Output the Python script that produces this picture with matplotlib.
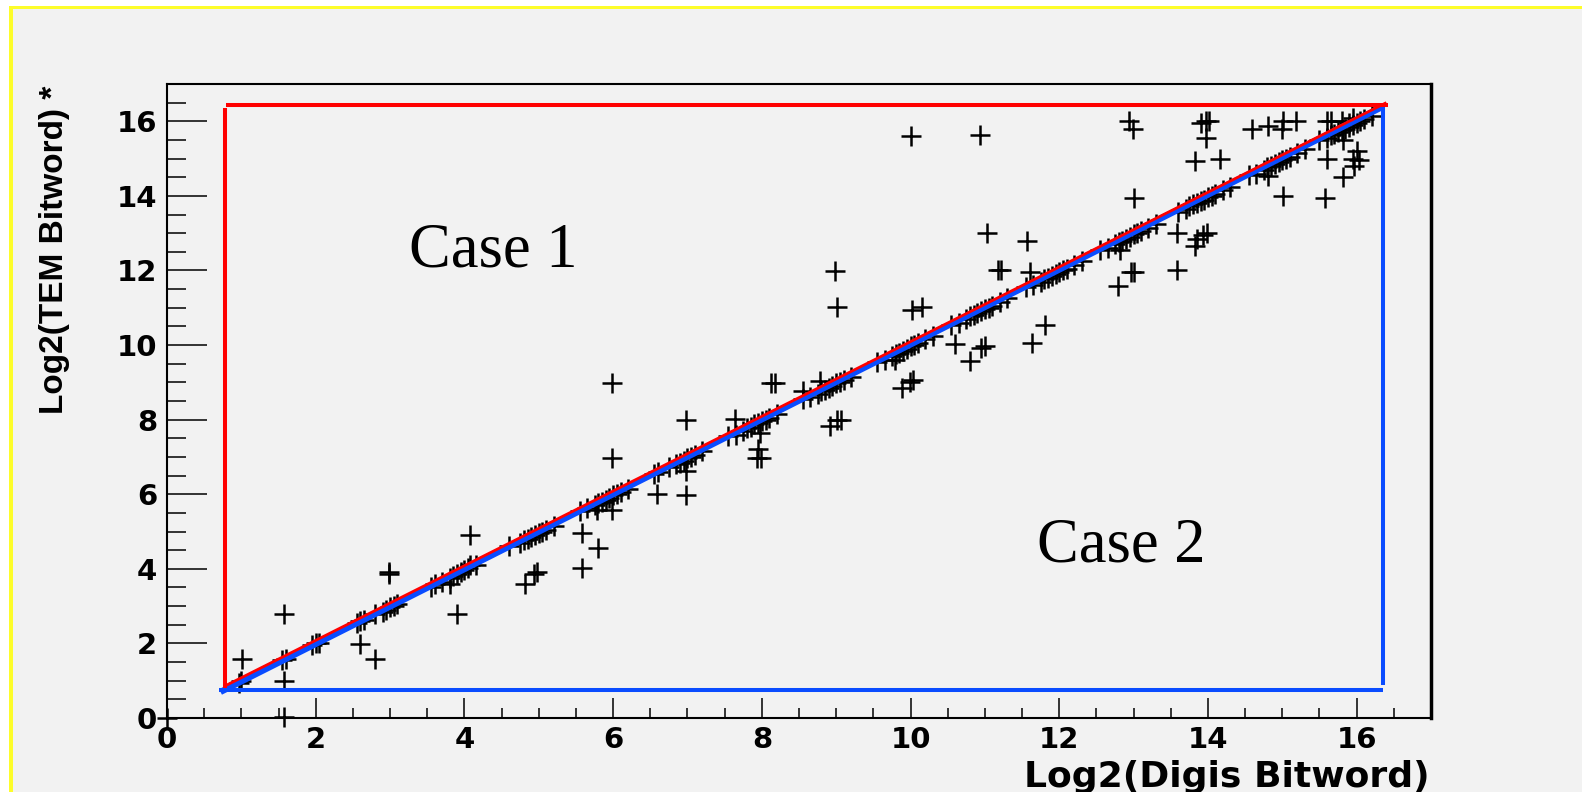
import matplotlib
matplotlib.use("Agg")
import matplotlib.pyplot as plt
from matplotlib.patches import Rectangle
from matplotlib.ticker import MultipleLocator

# points lying on the diagonal (log2 digis ~ log2 TEM)
band_x = [0.97, 1.0, 1.55, 1.6, 1.95, 2.0, 2.05, 2.55, 2.6, 2.65,
          2.8, 2.9, 2.95, 3.0, 3.05, 3.1,
          3.55, 3.6, 3.7, 3.8, 3.85, 3.9, 3.95, 4.0, 4.05, 4.15,
          4.6, 4.75, 4.8, 4.85, 4.9, 4.95, 5.0, 5.05, 5.1, 5.2,
          5.55, 5.65, 5.75, 5.8, 5.85, 5.9, 5.95, 6.0, 6.05, 6.1, 6.2,
          6.55, 6.6, 6.75, 6.85, 6.9, 6.95, 7.0, 7.05, 7.1, 7.2,
          7.55, 7.65, 7.75, 7.8, 7.85, 7.9, 7.95, 8.0, 8.05, 8.1, 8.2,
          8.55, 8.65, 8.75, 8.8, 8.85, 8.9, 8.95, 9.0, 9.05, 9.1, 9.2,
          9.55, 9.65, 9.75, 9.8, 9.85, 9.9, 9.95, 10.0, 10.05, 10.1, 10.2, 10.3,
          10.55, 10.65, 10.75, 10.8, 10.85, 10.9, 10.95, 11.0, 11.05, 11.1, 11.2, 11.3,
          11.55, 11.65, 11.75, 11.8, 11.85, 11.9, 11.95, 12.0, 12.05, 12.1, 12.2, 12.3,
          12.55, 12.65, 12.75, 12.8, 12.85, 12.9, 12.95, 13.0, 13.05, 13.1, 13.2, 13.3,
          13.6, 13.7, 13.75, 13.8, 13.85, 13.9, 13.95, 14.0, 14.05, 14.1, 14.2, 14.3,
          14.55, 14.65, 14.75, 14.8, 14.85, 14.9, 14.95, 15.0, 15.05, 15.1, 15.2, 15.3,
          15.5, 15.6, 15.65, 15.7, 15.75, 15.8, 15.85, 15.9, 15.95, 16.0, 16.05, 16.1, 16.2]
band_y = [0.95, 1.0, 1.55, 1.58, 1.95, 2.0, 2.0, 2.55, 2.6, 2.62,
          2.78, 2.85, 2.9, 2.97, 3.0, 3.05,
          3.5, 3.6, 3.65, 3.75, 3.82, 3.87, 3.92, 3.97, 4.02, 4.1,
          4.6, 4.7, 4.78, 4.8, 4.85, 4.92, 4.97, 5.0, 5.05, 5.15,
          5.55, 5.62, 5.7, 5.77, 5.8, 5.85, 5.9, 5.97, 6.0, 6.05, 6.15,
          6.55, 6.6, 6.72, 6.8, 6.85, 6.9, 6.97, 7.0, 7.05, 7.15,
          7.55, 7.6, 7.7, 7.77, 7.8, 7.87, 7.9, 7.97, 8.0, 8.05, 8.15,
          8.55, 8.6, 8.7, 8.77, 8.8, 8.85, 8.9, 8.97, 9.0, 9.05, 9.15,
          9.55, 9.6, 9.7, 9.77, 9.8, 9.85, 9.9, 9.97, 10.0, 10.05, 10.15, 10.25,
          10.55, 10.6, 10.7, 10.77, 10.8, 10.85, 10.9, 10.97, 11.0, 11.05, 11.15, 11.25,
          11.55, 11.6, 11.7, 11.77, 11.8, 11.85, 11.9, 11.97, 12.0, 12.05, 12.15, 12.25,
          12.55, 12.6, 12.7, 12.77, 12.8, 12.85, 12.9, 12.97, 13.0, 13.05, 13.15, 13.25,
          13.57, 13.65, 13.72, 13.77, 13.8, 13.85, 13.9, 13.97, 14.0, 14.05, 14.15, 14.25,
          14.55, 14.6, 14.7, 14.77, 14.8, 14.85, 14.9, 14.97, 15.0, 15.05, 15.15, 15.25,
          15.5, 15.55, 15.62, 15.67, 15.7, 15.77, 15.8, 15.85, 15.9, 15.95, 16.0, 16.05, 16.15]

# points off the diagonal
off_x = [0.0, 1.01, 1.58, 1.58, 1.58, 2.59, 2.8, 2.98, 2.98, 3.81, 3.9,
         4.08, 4.08, 4.82, 4.93, 4.97, 5.58, 5.8, 5.58, 5.99, 5.99, 5.99, 5.78,
         6.59, 6.98, 6.98, 6.98, 7.64, 7.95, 7.93, 7.99, 7.98, 8.13, 8.18,
         8.56, 8.78, 8.99, 9.01, 8.92, 9.01, 9.06, 9.79, 9.88, 9.99, 10.03,
         10.0, 10.94, 10.02, 10.15, 10.6, 10.8, 10.95, 11.0, 11.03, 11.56,
         11.17, 11.22, 11.61, 11.63, 11.81, 12.79, 12.97, 13.01, 12.82, 13.0,
         12.94, 12.99, 13.58, 13.94, 13.99, 13.85, 13.83, 13.58, 13.91, 13.98,
         14.02, 13.98, 13.83, 14.16, 14.59, 14.81, 14.81, 15.01, 14.99, 15.19,
         15.01, 15.57, 15.6, 15.82, 15.82, 15.95, 16.0, 15.97, 16.03, 15.6,
         15.66, 15.8, 15.95, 15.9]
off_y = [0.0, 1.57, 2.8, 0.99, 0.02, 1.98, 1.57, 3.85, 3.92, 3.58, 2.8,
         4.92, 4.1, 3.58, 3.85, 3.92, 4.97, 4.57, 4.03, 8.97, 6.98, 5.59, 5.59,
         6.0, 5.97, 6.62, 7.98, 8.02, 7.2, 6.98, 6.98, 7.65, 8.99, 8.99,
         8.76, 9.03, 11.98, 11.03, 7.83, 8.0, 8.0, 9.61, 8.86, 9.02, 9.05,
         15.6, 15.64, 10.95, 11.03, 10.02, 9.57, 9.92, 9.97, 13.01, 12.78,
         12.0, 12.0, 11.95, 10.06, 10.55, 11.58, 11.95, 11.95, 12.56, 13.93,
         16.0, 15.78, 13.01, 12.96, 13.0, 12.85, 12.65, 12.01, 15.96, 16.0,
         16.0, 15.56, 14.93, 15.0, 15.78, 15.87, 14.53, 16.0, 15.78, 16.0,
         13.99, 13.95, 14.99, 14.5, 15.51, 15.0, 15.2, 14.8, 14.95, 16.0,
         16.0, 16.0, 16.08, 15.95]

W, H = 1582, 792
bg = "#f2f2f2"

fig = plt.figure(figsize=(W / 100, H / 100), dpi=100, facecolor="white")
# yellow frame on top/left, grey canvas inside
fig.patches.append(Rectangle((9 / W, 0), 1, 1 - 6 / H, transform=fig.transFigure,
                             facecolor="#fdfd2a", edgecolor="none", zorder=-3))
fig.patches.append(Rectangle((13 / W, 0), 1, 1 - 9 / H, transform=fig.transFigure,
                             facecolor=bg, edgecolor="none", zorder=-2))

ax = fig.add_axes([167 / W, 1 - 718 / H, (1431 - 167) / W, (718 - 84) / H])
ax.set_facecolor(bg)
ax.set_xlim(0, 17)
ax.set_ylim(0, 17)

# case lines (drawn over the plot)
blue = "#0a4cff"
red = "#ff0000"
ax.plot([0.7, 16.36], [0.75, 0.75], color=blue, lw=2.9, solid_capstyle="butt", zorder=4)
ax.plot([16.36, 16.36], [0.88, 16.45], color=blue, lw=2.9, solid_capstyle="butt", zorder=4)
ax.plot([0.72, 16.36], [0.7, 16.4], color=blue, lw=4.5, solid_capstyle="butt", zorder=4)
ax.plot([0.78, 0.78], [0.8, 16.35], color=red, lw=2.9, solid_capstyle="butt", zorder=5)
ax.plot([0.8, 16.42], [16.45, 16.45], color=red, lw=2.9, solid_capstyle="butt", zorder=5)
ax.plot([0.78, 16.4], [0.86, 16.5], color=red, lw=2.0, solid_capstyle="butt", zorder=5)

for xs, ys in [(band_x, band_y), (off_x, off_y)]:
    ax.plot(xs, ys, ls="none", marker="+", ms=14, mew=1.8, color="black",
            clip_on=False, zorder=3)

ax.text(3.26, 12.5, "Case 1", fontsize=45, family="Liberation Serif",
        ha="left", va="center")
ax.text(11.7, 4.6, "Case 2", fontsize=45, family="Liberation Serif",
        ha="left", va="center")

# ROOT style axes
ax.xaxis.set_major_locator(MultipleLocator(2))
ax.xaxis.set_minor_locator(MultipleLocator(0.5))
ax.yaxis.set_major_locator(MultipleLocator(2))
ax.yaxis.set_minor_locator(MultipleLocator(0.5))
ax.tick_params(axis="both", which="both", direction="in", top=False, right=False,
               width=1.1, color="black")
ax.tick_params(axis="x", which="major", length=14.4, pad=6)
ax.tick_params(axis="x", which="minor", length=7.2)
ax.tick_params(axis="y", which="major", length=28.8, pad=7)
ax.tick_params(axis="y", which="minor", length=13.7)
for lab in ax.get_xticklabels() + ax.get_yticklabels():
    lab.set_fontfamily("DejaVu Sans")
    lab.set_fontweight("bold")
    lab.set_fontsize(21)
for side in ["left", "bottom", "top"]:
    ax.spines[side].set_linewidth(1.5)
ax.spines["right"].set_linewidth(2.5)

fig.text(1430 / W, 1 - 777 / H, "Log2(Digis Bitword)", ha="right", va="center",
         fontsize=26, fontweight="bold", family="DejaVu Sans")
fig.text(55 / W, 1 - 86 / H, "Log2(TEM Bitword) *", rotation=90, ha="center",
         va="top", fontsize=24, fontweight="bold", family="Liberation Sans")

fig.savefig("out.png", dpi=100, facecolor=fig.get_facecolor())
